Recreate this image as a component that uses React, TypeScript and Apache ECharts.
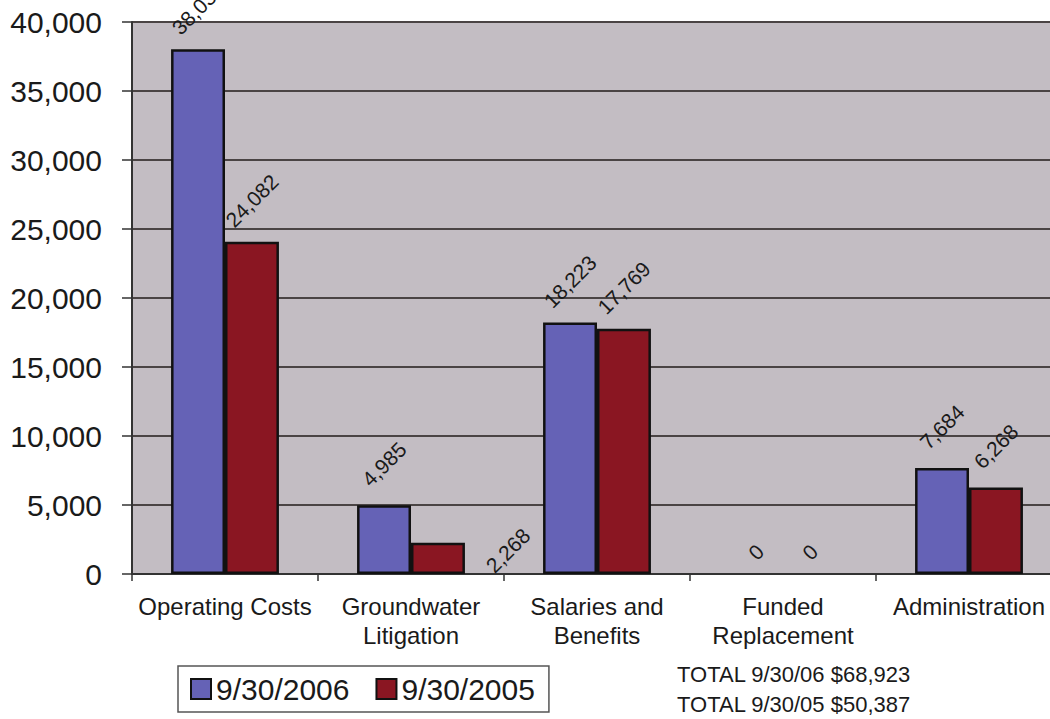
import React, { useEffect, useRef } from "react";
import * as echarts from "echarts";

const categories = [
  "Operating Costs",
  "Groundwater\nLitigation",
  "Salaries and\nBenefits",
  "Funded\nReplacement",
  "Administration",
];
const seriesNames = ["9/30/2006", "9/30/2005"];
const values2006 = [38031, 4985, 18223, 0, 7684];
const values2005 = [24082, 2268, 17769, 0, 6268];
const totalLabels = ["TOTAL 9/30/06", "TOTAL 9/30/05"];

const FONT = "'Liberation Sans', Arial, Helvetica, sans-serif";
const fmt = (v: number) => v.toLocaleString("en-US");

export default function App() {
  const ref = useRef<HTMLDivElement>(null);

  useEffect(() => {
    if (!ref.current) return;
    const chart = echarts.init(ref.current, undefined, { renderer: "svg" });

    const buildData = (vals: number[], seriesIdx: number) =>
      vals.map((v, i) => {
        const item: any = { value: v };
        if (v === 0) {
          item.label = { distance: 22 };
          item.itemStyle = { borderWidth: 0 };
        }
        if (seriesIdx === 1 && i === 1) item.label = { offset: [15, 84] };
        return item;
      });

    const sum = (a: number[]) => a.reduce((s, x) => s + x, 0);
    const totalsText =
      totalLabels[0] + " $" + fmt(sum(values2006)) + "\n" +
      totalLabels[1] + " $" + fmt(sum(values2005));

    const labelStyle = {
      show: true,
      position: "top",
      distance: 41,
      rotate: 45,
      align: "center",
      verticalAlign: "middle",
      fontSize: 21,
      fontFamily: FONT,
      color: "#1a1a1a",
      formatter: (p: any) => fmt(p.value),
    };

    chart.setOption({
      animation: false,
      backgroundColor: "#ffffff",
      textStyle: { fontFamily: FONT },
      grid: {
        left: 132,
        width: 930,
        top: 22,
        bottom: 145,
        show: true,
        backgroundColor: "#c3bdc3",
        borderWidth: 0,
        containLabel: false,
        outerBoundsMode: "none",
      },
      legend: {
        data: seriesNames,
        left: 178,
        top: 666,
        orient: "horizontal",
        icon: "rect",
        itemWidth: 20,
        itemHeight: 20,
        itemGap: 26,
        padding: [8, 14, 8, 12],
        borderColor: "#555",
        borderWidth: 1.5,
        textStyle: { fontSize: 30, fontFamily: FONT, color: "#1a1a1a" },
      },
      xAxis: {
        type: "category",
        data: categories,
        axisLine: { show: true, lineStyle: { color: "#333", width: 2 } },
        axisTick: { show: true, length: 7, lineStyle: { color: "#333", width: 1.5 } },
        axisLabel: {
          fontSize: 24,
          lineHeight: 29,
          margin: 18,
          color: "#1a1a1a",
          fontFamily: FONT,
          interval: 0,
        },
      },
      yAxis: {
        type: "value",
        min: 0,
        max: 40000,
        interval: 5000,
        axisLine: { show: true, lineStyle: { color: "#333", width: 2 } },
        axisTick: { show: true, length: 10, lineStyle: { color: "#333", width: 1.5 } },
        axisLabel: {
          fontSize: 30,
          margin: 30,
          color: "#1a1a1a",
          fontFamily: FONT,
          formatter: (v: number) => fmt(v),
        },
        splitLine: { show: true, lineStyle: { color: "#4a4444", width: 2 } },
      },
      series: [
        {
          name: seriesNames[0],
          type: "bar",
          data: buildData(values2006, 0),
          barGap: "0%",
          barCategoryGap: "42%",
          itemStyle: { color: "#6562b6", borderColor: "#111", borderWidth: 2.5 },
          label: labelStyle,
        },
        {
          name: seriesNames[1],
          type: "bar",
          data: buildData(values2005, 1),
          barGap: "0%",
          barCategoryGap: "42%",
          itemStyle: { color: "#8a1622", borderColor: "#111", borderWidth: 2.5 },
          label: labelStyle,
        },
      ],
      graphic: [
        {
          type: "text",
          left: 677,
          top: 659,
          style: {
            text: totalsText,
            fontSize: 22,
            lineHeight: 30,
            fontFamily: FONT,
            fill: "#1a1a1a",
          },
        },
      ],
    });

    return () => chart.dispose();
  }, []);

  return (
    <div
      ref={ref}
      style={{ position: "fixed", left: 0, top: 0, width: 1050, height: 719 }}
    />
  );
}
